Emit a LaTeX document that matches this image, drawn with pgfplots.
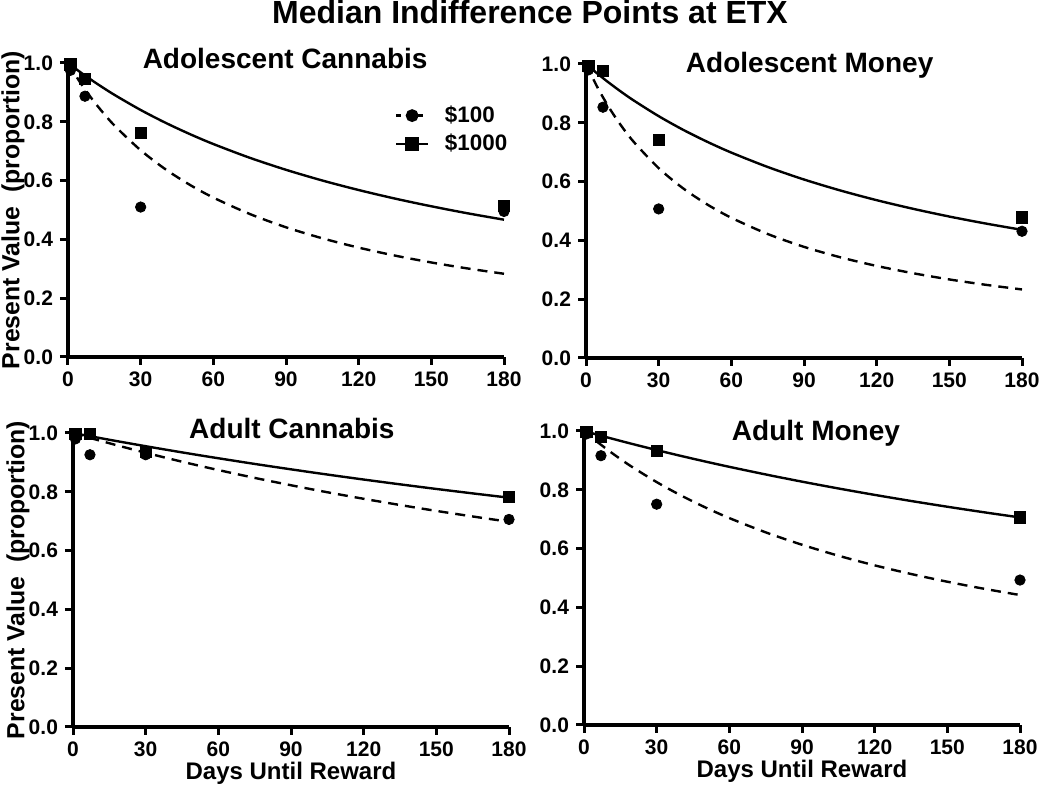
\documentclass[border=0pt]{standalone}
\usepackage{fontspec}
\setmainfont{Liberation Sans}
\usepackage{pgfplots}
\pgfplotsset{compat=1.18}
\pgfplotsset{
  panel/.style={
    scale only axis, width=218pt, height=147pt,
    anchor=south west,
    xmin=0, xmax=180, ymin=0, ymax=1,
    axis lines=left, axis line style={line width=1.6pt, -},
    tick align=outside, major tick length=4pt, tick style={line width=1.5pt, black},
    xtick={0,30,60,90,120,150,180}, ytick={0,0.2,0.4,0.6,0.8,1.0},
    yticklabel style={/pgf/number format/.cd, fixed, fixed zerofill, precision=1},
    /pgf/number format/assume math mode=true,
    tick label style={font=\fontsize{10.5}{12}\selectfont\bfseries},
    title style={font=\fontsize{14}{16}\selectfont\bfseries, anchor=base, yshift=0pt},
    every axis title shift=0pt,
    label style={font=\fontsize{12}{14}\selectfont\bfseries},
    clip=false,
  },
  ylab/.style={ylabel={Present Value\ \ (proportion)},
    ylabel style={at={(axis description cs:-0.126,0.5)}, anchor=center, font=\fontsize{12.4}{14}\selectfont\bfseries}},
  xlab/.style={xlabel={Days Until Reward},
    xlabel style={at={(axis description cs:0.5,-0.156)}, anchor=center}},
  fitlo/.style={black, line width=1.2pt, dash pattern=on 5pt off 3.5pt, smooth, no markers},
  fithi/.style={black, line width=1.2pt, solid, smooth, no markers},
  dlo/.style={only marks, mark=*, mark size=2.6pt, black},
  dhi/.style={only marks, mark=square*, mark size=2.8pt, black},
}
\begin{document}
\begin{tikzpicture}
\path[use as bounding box] (0pt,0pt) rectangle (525pt,398.5pt);
\node[font=\fontsize{16}{18}\selectfont\bfseries, anchor=base] at (265pt,386.5pt) {Median Indifference Points at ETX};

% Adolescent Cannabis
\begin{axis}[panel, ylab, at={(34pt,220pt)}, title={Adolescent Cannabis}, title style={at={(0.498,0.98)}},
  legend style={at={(0.736,0.883)}, anchor=north west, draw=none, fill=none,
    font=\fontsize{11.2}{13}\selectfont\bfseries, row sep=0.3pt, cells={anchor=west}},
  legend image code/.code={\draw[mark repeat=2,mark phase=2,#1] plot coordinates {(0cm,0cm) (0.275cm,0cm) (0.55cm,0cm)};}]
\addlegendimage{black, line width=1.2pt, dash pattern=on 2.5pt off 2.8pt, mark=*, mark size=2.6pt, mark options={solid}}
\addlegendentry{\hspace{6pt}\$100}
\addlegendimage{black, line width=1.2pt, mark=square*, mark size=2.8pt}
\addlegendentry{\hspace{6pt}\$1000}
\addplot[fitlo, forget plot] coordinates {(0,1) (5,0.9343) (10,0.8767) (15,0.8257) (20,0.7804) (30,0.7032) (40,0.6399) (50,0.5870) (60,0.5422) (75,0.4866) (90,0.4412) (105,0.4037) (120,0.3720) (135,0.3449) (150,0.3215) (165,0.3011) (180,0.2831)};
\addplot[fithi, forget plot] coordinates {(0,1) (5,0.9693) (10,0.9404) (15,0.9132) (20,0.8875) (30,0.8402) (40,0.7977) (50,0.7593) (60,0.7244) (75,0.6777) (90,0.6367) (105,0.6003) (120,0.5679) (135,0.5388) (150,0.5126) (165,0.4887) (180,0.4670)};
\addplot[dlo, forget plot] coordinates {(1,0.975) (7,0.887) (30,0.51) (180,0.495)};
\addplot[dhi, forget plot] coordinates {(1,0.995) (7,0.947) (30,0.762) (180,0.514)};
\end{axis}

% Adolescent Money
\begin{axis}[panel, at={(293pt,219.5pt)}, title={Adolescent Money}, title style={at={(0.513,0.972)}}]
\addplot[fitlo] coordinates {(0,1) (5,0.9163) (10,0.8455) (15,0.7848) (20,0.7323) (30,0.6458) (40,0.5776) (50,0.5225) (60,0.4769) (75,0.4218) (90,0.3780) (105,0.3425) (120,0.3131) (135,0.2884) (150,0.2672) (165,0.2490) (180,0.2331)};
\addplot[fithi] coordinates {(0,1) (5,0.9653) (10,0.9329) (15,0.9026) (20,0.8743) (30,0.8226) (40,0.7766) (50,0.7356) (60,0.6986) (75,0.6497) (90,0.6071) (105,0.5698) (120,0.5368) (135,0.5075) (150,0.4811) (165,0.4574) (180,0.4359)};
\addplot[dlo] coordinates {(1,0.98) (7,0.853) (30,0.507) (180,0.431)};
\addplot[dhi] coordinates {(1,0.994) (7,0.977) (30,0.743) (180,0.478)};
\end{axis}

% Adult Cannabis
\begin{axis}[panel, ylab, xlab, at={(36.5pt,35pt)}, title={Adult Cannabis}, title style={at={(0.502,0.98)}}]
\addplot[fitlo] coordinates {(0,1) (5,0.9881) (10,0.9765) (15,0.9652) (20,0.9541) (30,0.9328) (40,0.9123) (50,0.8927) (60,0.8740) (75,0.8473) (90,0.8222) (105,0.7985) (120,0.7762) (135,0.7551) (150,0.7350) (165,0.7161) (180,0.6981)};
\addplot[fithi] coordinates {(0,1) (5,0.9922) (10,0.9846) (15,0.9770) (20,0.9696) (30,0.9551) (40,0.9410) (50,0.9273) (60,0.9141) (75,0.8948) (90,0.8764) (105,0.8587) (120,0.8417) (135,0.8254) (150,0.8097) (165,0.7946) (180,0.7800)};
\addplot[dlo] coordinates {(1,0.98) (7,0.926) (30,0.926) (180,0.706)};
\addplot[dhi] coordinates {(1,0.997) (7,0.997) (30,0.935) (180,0.783)};
\end{axis}

% Adult Money
\begin{axis}[panel, xlab, at={(292pt,36pt)}, title={Adult Money}, title style={at={(0.532,0.969)}}]
\addplot[fitlo] coordinates {(0,1) (5,0.9661) (10,0.9345) (15,0.9048) (20,0.8770) (30,0.8262) (40,0.7809) (50,0.7404) (60,0.7038) (75,0.6553) (90,0.6131) (105,0.5759) (120,0.5430) (135,0.5137) (150,0.4873) (165,0.4636) (180,0.4420)};
\addplot[fithi] coordinates {(0,1) (5,0.9886) (10,0.9774) (15,0.9665) (20,0.9558) (30,0.9351) (40,0.9153) (50,0.8963) (60,0.8781) (75,0.8522) (90,0.8277) (105,0.8046) (120,0.7827) (135,0.7620) (150,0.7424) (165,0.7237) (180,0.7060)};
\addplot[dlo] coordinates {(1,0.99) (7,0.916) (30,0.751) (180,0.493)};
\addplot[dhi] coordinates {(1,0.997) (7,0.98) (30,0.932) (180,0.706)};
\end{axis}
\end{tikzpicture}
\end{document}
